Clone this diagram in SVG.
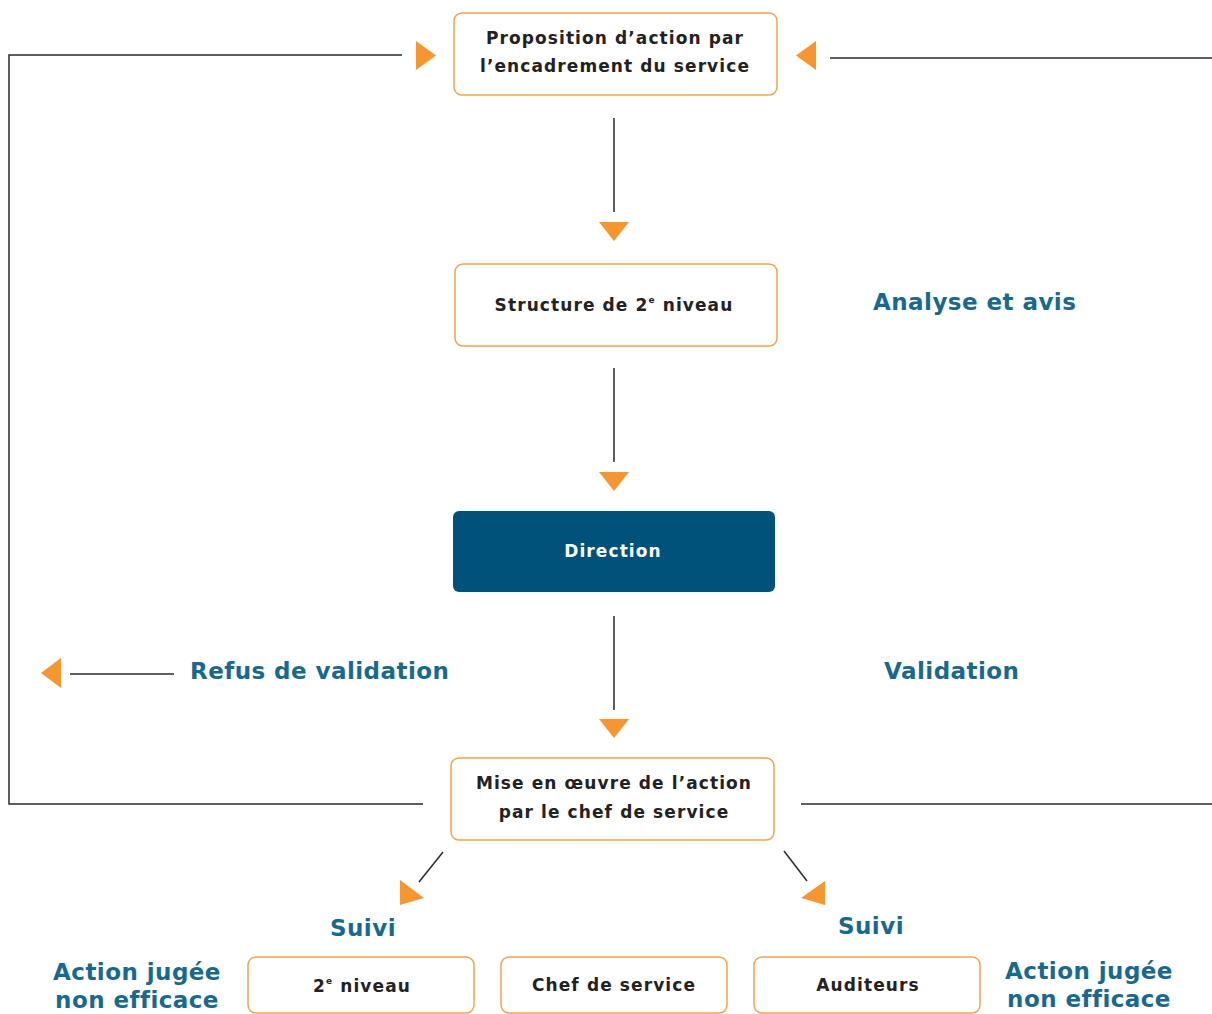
<svg xmlns="http://www.w3.org/2000/svg" width="1212" height="1014" viewBox="0 0 1212 1014">
<style>
.box{fill:#fff;stroke:#F7A24A;stroke-width:1.5}
.dir{fill:#00527A}
.t{font-family:"DejaVu Sans",Verdana,sans-serif;font-weight:bold;font-size:17px;letter-spacing:1.1px;fill:#222;text-anchor:middle;dominant-baseline:central}
.tw{fill:#fff}
.lbl{font-family:"DejaVu Sans",Verdana,sans-serif;font-weight:bold;font-size:23px;letter-spacing:0.45px;fill:#17698F;dominant-baseline:central}
.ln{fill:none;stroke:#2a2a2a;stroke-width:1.5}
.ar{fill:#F7952F}
</style>
<rect width="1212" height="1014" fill="#fff"/>
<g id="connectors">
<line class="ln" x1="614" y1="118" x2="614" y2="212"/>
<polygon class="ar" points="599,222 629,222 614,241"/>
<line class="ln" x1="614" y1="368" x2="614" y2="462"/>
<polygon class="ar" points="599,472 629,472 614,491"/>
<line class="ln" x1="614" y1="616" x2="614" y2="710"/>
<polygon class="ar" points="599,719 629,719 614,738"/>
<polyline class="ln" points="423,804 9,804 9,55 402,55"/>
<polygon class="ar" points="416,41 416,70 436,55.5"/>
<line class="ln" x1="830" y1="58" x2="1212" y2="58"/>
<polygon class="ar" points="816,41 816,70 796,55.5"/>
<line class="ln" x1="801" y1="804" x2="1212" y2="804"/>
<line class="ln" x1="70" y1="674" x2="174" y2="674"/>
<polygon class="ar" points="61,658 61,688 41,673"/>
<line class="ln" x1="443" y1="852" x2="419" y2="882"/>
<polygon class="ar" points="400,880 400,905 424,898"/>
<line class="ln" x1="784" y1="851" x2="807" y2="881"/>
<polygon class="ar" points="825,881 825,905 801,898"/>
</g>
<g id="n1"><rect class="box" x="454" y="13" width="323" height="82" rx="8"/>
<text class="t" x="615" y="38">Proposition d’action par</text>
<text class="t" x="615" y="66">l’encadrement du service</text></g>
<g id="n2"><rect class="box" x="455" y="264" width="322" height="82" rx="8"/>
<text class="t" x="614" y="305">Structure de 2<tspan font-size="9" dy="-5">e</tspan><tspan dy="5"> niveau</tspan></text></g>
<g id="n3"><rect class="dir" x="453" y="511" width="322" height="81" rx="6"/>
<text class="t tw" x="613" y="551">Direction</text></g>
<g id="n4"><rect class="box" x="451" y="758" width="323" height="82" rx="8"/>
<text class="t" x="614" y="783">Mise en œuvre de l’action</text>
<text class="t" x="614" y="812">par le chef de service</text></g>
<g id="n5"><rect class="box" x="248" y="957" width="226" height="56" rx="8"/>
<text class="t" x="362" y="986">2<tspan font-size="9" dy="-5">e</tspan><tspan dy="5"> niveau</tspan></text></g>
<g id="n6"><rect class="box" x="501" y="957" width="226" height="56" rx="8"/>
<text class="t" x="614" y="985">Chef de service</text></g>
<g id="n7"><rect class="box" x="754" y="957" width="226" height="56" rx="8"/>
<text class="t" x="868" y="985">Auditeurs</text></g>
<g id="labels">
<text class="lbl" x="873" y="302">Analyse et avis</text>
<text class="lbl" x="884" y="671">Validation</text>
<text class="lbl" x="190" y="671">Refus de validation</text>
<text class="lbl" x="363" y="928" text-anchor="middle">Suivi</text>
<text class="lbl" x="871" y="926" text-anchor="middle">Suivi</text>
<text class="lbl" x="137" y="972" text-anchor="middle">Action jugée</text>
<text class="lbl" x="137" y="1000" text-anchor="middle">non efficace</text>
<text class="lbl" x="1089" y="971" text-anchor="middle">Action jugée</text>
<text class="lbl" x="1089" y="999" text-anchor="middle">non efficace</text>
</g>
</svg>
